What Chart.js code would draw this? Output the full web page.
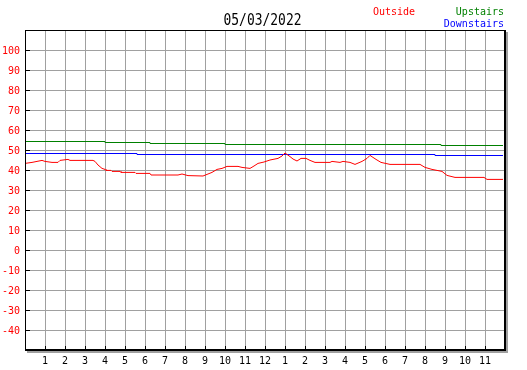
<!DOCTYPE html>
<html>
<head>
<meta charset="utf-8">
<script src="https://cdn.jsdelivr.net/npm/chart.js@4.4.1/dist/chart.umd.min.js"></script>
<style>
    html, body { margin: 0; padding: 0; background: #fff; }
</style>
</head>
<body>
<canvas id="tempChart" width="527" height="370"></canvas>
<script>
var chartTitle = "05/03/2022";

// hour of day (0..24) -> tick label
var hourLabels = ["", "1", "2", "3", "4", "5", "6", "7", "8", "9", "10", "11",
                  "12", "1", "2", "3", "4", "5", "6", "7", "8", "9", "10", "11", ""];
var tempLabels = [-40, -30, -20, -10, 0, 10, 20, 30, 40, 50, 60, 70, 80, 90, 100];

var outsideHours = [0, 0.35, 0.6, 0.85, 1.0, 1.35, 1.65, 1.75, 2.15, 2.25, 3.4, 3.5, 3.65, 3.85, 4.0,
                    4.05, 4.3, 4.35, 4.75, 4.8, 5.5, 5.55, 6.25, 6.3, 7.65, 7.85, 8.15, 8.9, 9.1,
                    9.35, 9.6, 9.85, 10.1, 10.65, 10.85, 11.25, 11.45, 11.65, 11.95, 12.25, 12.65,
                    12.85, 13.0, 13.25, 13.4, 13.6, 13.8, 14.05, 14.25, 14.5, 15.25, 15.35, 15.75,
                    15.9, 16.25, 16.5, 16.85, 17.1, 17.25, 17.55, 17.8, 18.25, 19.75, 20.0, 20.35,
                    20.85, 21.1, 21.5, 22.95, 23.1, 23.9];
var outsideTemps = [43.3, 43.8, 44.3, 44.8, 44.3, 43.8, 43.8, 44.8, 45.3, 44.8, 44.8, 44.3, 42.5, 40.8, 40.3,
                    39.8, 39.8, 39.3, 39.3, 38.8, 38.8, 38.3, 38.3, 37.5, 37.5, 38, 37.2, 37, 37.8,
                    38.8, 40.3, 40.8, 41.8, 41.8, 41.3, 40.8, 42, 43.3, 44, 45, 45.8,
                    47, 48.5, 46.7, 45.5, 44.5, 45.8, 45.8, 44.8, 43.8, 43.8, 44.3, 43.8,
                    44.3, 43.8, 42.8, 44.3, 45.8, 47.3, 45.3, 43.8, 42.8, 42.8, 41.3, 40.3,
                    39.3, 37.3, 36.3, 36.3, 35.3, 35.3];

var upstairsHours = [0, 4.0, 6.25, 10.0, 20.8, 23.9];
var upstairsTemps = [54.25, 53.75, 53.25, 52.75, 52.25, 52.25];

var downstairsHours = [0, 5.6, 20.5, 23.9];
var downstairsTemps = [48.25, 47.75, 47.25, 47.25];

function toPoints(hours, temps) {
    return hours.map(function (h, i) { return { x: h, y: temps[i] }; });
}

// frame, inside ticks, shadow and the header texts
var framePlugin = {
    id: "frame",
    afterDraw: function (chart) {
        var ctx = chart.ctx;
        var a = chart.chartArea;
        var xs = chart.scales.x, ys = chart.scales.y;
        ctx.save();

        ctx.strokeStyle = "#000";
        ctx.lineWidth = 1;
        ctx.beginPath();
        hourLabels.forEach(function (l, h) {
            if (!l) return;
            var px = Math.round(xs.getPixelForValue(h)) + 0.5;
            ctx.moveTo(px, a.bottom - 4);
            ctx.lineTo(px, a.bottom);
        });
        tempLabels.forEach(function (v) {
            var py = Math.round(ys.getPixelForValue(v)) + 0.5;
            ctx.moveTo(a.left, py);
            ctx.lineTo(a.left + 5, py);
        });
        ctx.stroke();

        // border
        ctx.fillStyle = "#000";
        ctx.fillRect(a.left, a.top, a.right - a.left + 1, 1);
        ctx.fillRect(a.left, a.top, 1, a.bottom - a.top + 1);
        ctx.fillRect(a.right - 1, a.top, 2, a.bottom - a.top + 1);
        ctx.fillRect(a.left, a.bottom - 1, a.right - a.left + 1, 2);
        // shadow
        ctx.fillStyle = "#a0a0a0";
        ctx.fillRect(a.right + 1, a.top + 2, 2, a.bottom - a.top + 1);
        ctx.fillRect(a.left + 2, a.bottom + 1, a.right - a.left + 1, 2);

        // title
        ctx.fillStyle = "#000";
        ctx.font = '16px "DejaVu Sans Mono"';
        ctx.textAlign = "center";
        ctx.textBaseline = "alphabetic";
        ctx.translate(262.5, 25);
        ctx.scale(0.81, 1);
        ctx.fillText(chartTitle, 0, 0);
        ctx.restore();

        ctx.save();
        ctx.font = '10px "DejaVu Sans Mono"';
        ctx.textBaseline = "alphabetic";
        ctx.textAlign = "left";
        ctx.fillStyle = "#ff0000";
        ctx.fillText("Outside", 373, 15);
        ctx.textAlign = "right";
        ctx.fillStyle = "#008000";
        ctx.fillText("Upstairs", 504, 15);
        ctx.fillStyle = "#0000ff";
        ctx.fillText("Downstairs", 504, 27);
        ctx.restore();
    }
};

var tempChart = new Chart(document.getElementById("tempChart"), {
    type: "line",
    data: {
        datasets: [{
            label: "Outside",
            data: toPoints(outsideHours, outsideTemps),
            borderColor: "#ff0000",
            borderWidth: 1,
            pointRadius: 0,
            tension: 0,
            fill: false
        }, {
            label: "Upstairs",
            data: toPoints(upstairsHours, upstairsTemps),
            borderColor: "#008000",
            borderWidth: 1,
            pointRadius: 0,
            stepped: true,
            fill: false
        }, {
            label: "Downstairs",
            data: toPoints(downstairsHours, downstairsTemps),
            borderColor: "#0000ff",
            borderWidth: 1,
            pointRadius: 0,
            stepped: true,
            fill: false
        }]
    },
    options: {
        responsive: false,
        animation: false,
        devicePixelRatio: 1,
        layout: { padding: { top: 30, right: 22, left: 0, bottom: 0 } },
        plugins: {
            legend: { display: false },
            tooltip: { enabled: false },
            title: { display: false }
        },
        scales: {
            x: {
                type: "linear",
                min: 0,
                max: 24,
                afterFit: function (s) { s.height = 20; },
                border: { display: false },
                grid: { color: "#a0a0a0", lineWidth: 1, drawTicks: false },
                ticks: {
                    stepSize: 1,
                    autoSkip: false,
                    maxRotation: 0,
                    padding: 5,
                    color: "#000",
                    font: { family: "DejaVu Sans Mono", size: 10 },
                    callback: function (v) { return hourLabels[v] || ""; }
                }
            },
            y: {
                min: -50,
                max: 110,
                afterFit: function (s) { s.width = 25; },
                border: { display: false },
                grid: { color: "#a0a0a0", lineWidth: 1, drawTicks: false },
                ticks: {
                    stepSize: 10,
                    padding: 5,
                    labelOffset: 1.5,
                    color: "#ff0000",
                    font: { family: "DejaVu Sans Mono", size: 10 },
                    callback: function (v) { return tempLabels.indexOf(v) >= 0 ? v : ""; }
                }
            }
        }
    },
    plugins: [framePlugin]
});
</script>
</body>
</html>
